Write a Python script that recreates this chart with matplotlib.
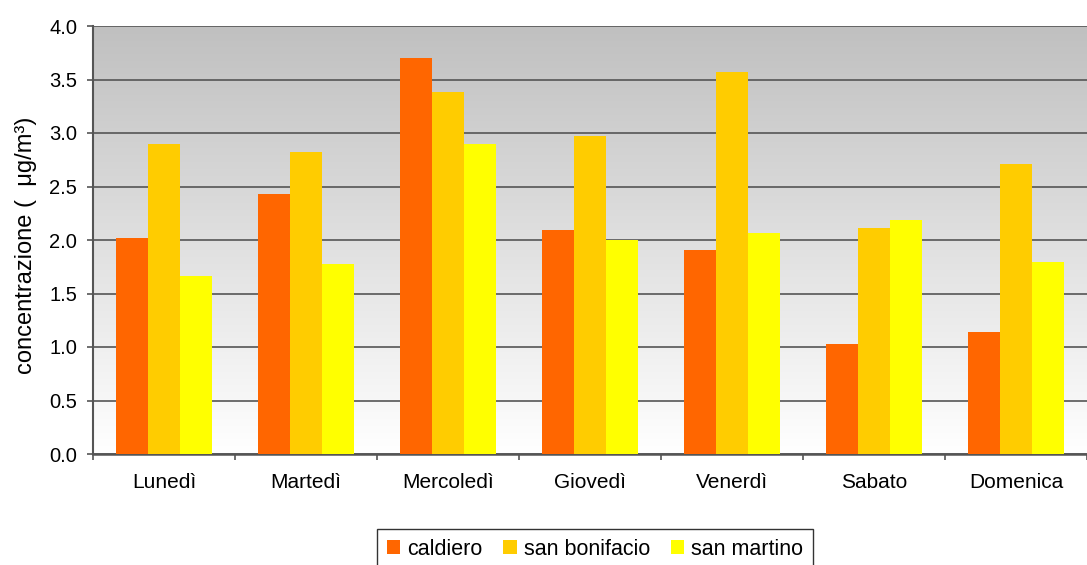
import numpy as np
import matplotlib
matplotlib.use("Agg")
import matplotlib.pyplot as plt
from matplotlib.ticker import FixedLocator, NullFormatter
from matplotlib.colors import LinearSegmentedColormap

plt.rcParams['font.family'] = ['Liberation Sans', 'DejaVu Sans']

days = ["Lunedì", "Martedì", "Mercoledì", "Giovedì", "Venerdì", "Sabato", "Domenica"]
caldiero = [2.02, 2.43, 3.70, 2.09, 1.91, 1.03, 1.14]
san_bonifacio = [2.90, 2.82, 3.38, 2.97, 3.57, 2.11, 2.71]
san_martino = [1.66, 1.78, 2.90, 2.00, 2.07, 2.19, 1.79]
series_names = ["caldiero", "san bonifacio", "san martino"]
colors = ["#FF6600", "#FFCC00", "#FFFF00"]
yticks = [0.0, 0.5, 1.0, 1.5, 2.0, 2.5, 3.0, 3.5, 4.0]

W, H = 1087, 565
fig = plt.figure(figsize=(W / 100, H / 100), dpi=100)
ax = fig.add_axes([93 / W, 1 - 454 / H, (1087 - 93) / W, (454 - 26) / H])

# gradient background
grad = np.linspace(0, 1, 256).reshape(-1, 1)
cmap = LinearSegmentedColormap.from_list("g", ["#c0c0c0", "#ffffff"])
ax.imshow(grad, aspect='auto', cmap=cmap, extent=[0, 1, 0, 1],
          transform=ax.transAxes, zorder=0)

x = np.arange(len(days))
bw = 0.225
for i, (vals, name, c) in enumerate(zip([caldiero, san_bonifacio, san_martino], series_names, colors)):
    ax.bar(x + (i - 1) * bw, vals, width=bw, color=c, label=name, zorder=3)

ax.set_xlim(-0.5, len(days) - 0.5)
ax.set_ylim(0, 4.0)
ax.set_yticks(yticks)
ax.set_yticklabels([f"{v:.1f}" for v in yticks])
ax.yaxis.grid(True, color="#555555", linewidth=1.2, zorder=1)
ax.set_axisbelow(True)

ax.xaxis.set_major_locator(FixedLocator(np.arange(-0.5, len(days), 1.0)))
ax.xaxis.set_major_formatter(NullFormatter())
ax.xaxis.set_minor_locator(FixedLocator(x))
ax.set_xticklabels(days, minor=True)
ax.tick_params(axis='x', which='minor', length=0, pad=14, labelsize=15)
ax.tick_params(axis='x', which='major', length=4.3, width=1.2, color="#555555", direction='out')
ax.tick_params(axis='y', length=4.3, width=1.2, color="#555555", labelsize=14.5, pad=7)

for s in ['top', 'right']:
    ax.spines[s].set_visible(False)
ax.spines['left'].set_color("#555555")
ax.spines['left'].set_linewidth(1.5)
ax.spines['bottom'].set_color("#555555")
ax.spines['bottom'].set_linewidth(1.8)

ax.set_ylabel("concentrazione (  μg/m³)", fontsize=17)
ax.yaxis.set_label_coords(-0.0563, 0.488)

leg = fig.legend(loc='upper center', bbox_to_anchor=(595 / W, 1 - 529 / H), ncol=3,
                 frameon=True, fancybox=False, edgecolor="black", fontsize=15.5,
                 handlelength=0.62, handleheight=0.62, handletextpad=0.34,
                 columnspacing=0.95, borderpad=0.45, borderaxespad=0)
leg.get_frame().set_linewidth(1.0)

fig.savefig("out.png", dpi=100)
